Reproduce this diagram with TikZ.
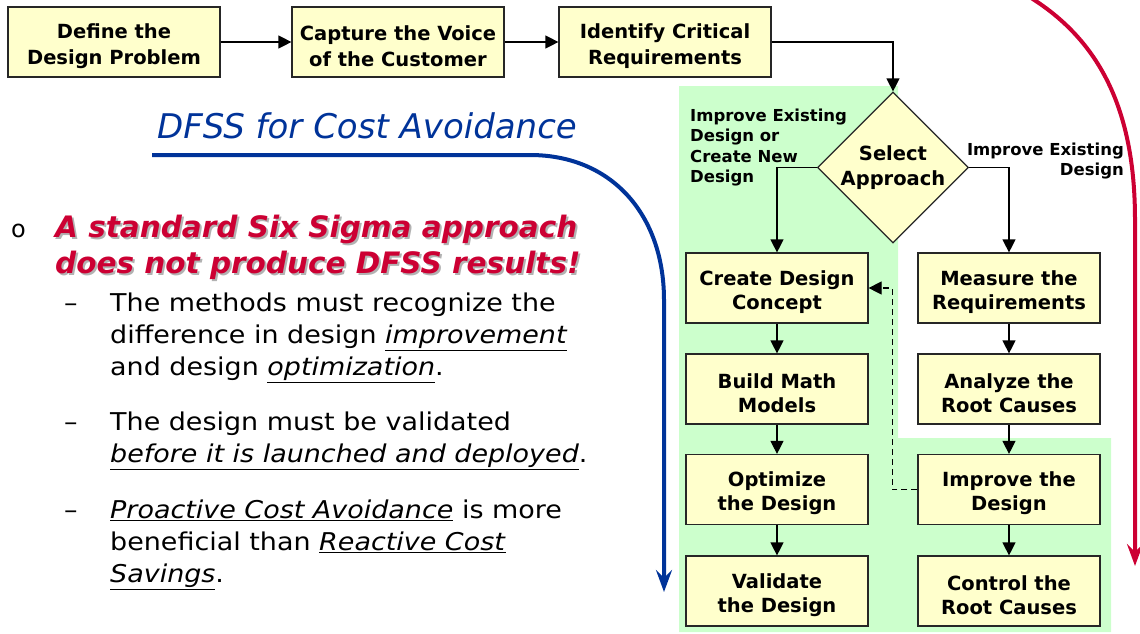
\documentclass[tikz,border=0pt]{standalone}
\usepackage{fontspec}
\setmainfont{DejaVu Sans}
\newfontfamily\bulletfont[FakeStretch=1.1]{DejaVu Sans}
\usetikzlibrary{arrows.meta, shapes.geometric}

\definecolor{boxfill}{HTML}{FFFFCC}
\definecolor{zonegreen}{HTML}{CCFFCC}
\definecolor{titleblue}{HTML}{003399}
\definecolor{alertred}{HTML}{CC0033}

\tikzset{
  stage/.style={draw=black!85, line width=1.2pt, fill=boxfill, inner sep=0pt,
    minimum width=182pt, minimum height=70pt, align=center,
    font=\bfseries\fontsize{19.5}{24}\selectfont},
  topstage/.style={stage, minimum width=212pt,
    font=\bfseries\fontsize{19.5}{26}\selectfont},
  pick/.style={diamond, draw=black!85, line width=1.2pt, fill=boxfill,
    inner sep=0pt, minimum width=151pt, minimum height=151pt, align=center,
    font=\bfseries\fontsize{19.5}{25}\selectfont},
  flow/.style={line width=1.2pt, -{Triangle[length=13pt,width=13pt]}},
  bigarrow/.style={line width=4pt, -{Stealth[length=22pt,width=16pt,inset=8pt]}},
  note/.style={inner sep=0pt, font=\bfseries\fontsize{16.5}{20.5}\selectfont},
  point/.style={inner sep=0pt, anchor=north west, align=left,
    font=\bulletfont\fontsize{24.5}{32}\selectfont},
  dashmark/.style={inner sep=0pt, anchor=base west,
    font=\bulletfont\fontsize{24.5}{32}\selectfont},
  warn/.style={inner sep=0pt, anchor=north west, align=left,
    font=\bfseries\itshape\fontsize{29.5}{36}\selectfont}
}
\newcommand{\stress}[1]{\underline{\textit{#1}}}
\newcommand{\up}{\rule{0pt}{22.5pt}}

\begin{document}
\begin{tikzpicture}[x=1pt, y=-1pt]
\useasboundingbox (0,0) rectangle (1140,633);

% green zone behind the DFSS path
\fill[zonegreen] (679,86) -- (898,86) -- (898,438) -- (1111,438)
  -- (1111,632) -- (679,632) -- cycle;

% top row
\node[topstage] (define) at (114,42) {\up Define the\\Design Problem};
\node[topstage] (voice) at (398,42) {\up Capture the Voice\\of the Customer};
\node[topstage] (req) at (665,42) {\up Identify Critical\\Requirements};

\node[pick] (select) at (893,167.5) {Select\\Approach};

% left column
\node[stage] (concept) at (777,288) {\up Create Design\\Concept};
\node[stage] (math) at (777,389) {\up Build Math\\Models};
\node[stage] (optim) at (777,489.5) {\up Optimize\\the Design};
\node[stage] (valid) at (777,591) {\up Validate\\the Design};

% right column
\node[stage] (measure) at (1009,288) {\up Measure the\\Requirements};
\node[stage] (analyze) at (1009,389) {\up Analyze the\\Root Causes};
\node[stage] (improve) at (1009,489.5) {\up Improve the\\Design};
\node[stage] (control) at (1009,591) {\up Control the\\Root Causes};

\node[note, anchor=north west, align=left] (leftnote) at (690,108.5)
  {Improve Existing\\Design or\\Create New\\Design};
\node[note, anchor=north east, align=right] (rightnote) at (1124,142.5)
  {Improve Existing\\Design};

\draw[flow] (define) -- (voice);
\draw[flow] (voice) -- (req);
\draw[flow] (req.east) -| (select.north);
\draw[flow] (select.west) -| (concept.north);
\draw[flow] (select.east) -| (measure.north);
\draw[flow] (concept) -- (math);
\draw[flow] (math) -- (optim);
\draw[flow] (optim) -- (valid);
\draw[flow] (measure) -- (analyze);
\draw[flow] (analyze) -- (improve);
\draw[flow] (improve) -- (control);
\draw[flow, dash pattern=on 6pt off 4pt] (improve.west) -- ++(-25,0) |- (concept.east);

% title and the two big arrows
\node[inner sep=0pt, anchor=base west, text=titleblue,
  font=\itshape\fontsize{34}{40}\selectfont] (title) at (157,138) {DFSS for Cost Avoidance};
\draw[titleblue, bigarrow] (152,155) -- (530,155)
  .. controls (612,155) and (664,215) .. (664,300) -- (664,592);
\draw[alertred, bigarrow] (1028,-4) .. controls (1100,40) and (1135,110) .. (1135,220)
  -- (1135,566);

% text on the left
\node[inner sep=0pt, anchor=base west, font=\fontsize{24}{30}\selectfont] (ring) at (11,237) {o};
\node[warn, text=black!30] (warnshade) at (57,216.5)
  {A standard Six Sigma approach\\does not produce DFSS results!};
\node[warn, text=alertred] (warning) at (55,214.5)
  {A standard Six Sigma approach\\does not produce DFSS results!};

\node[dashmark] (d1) at (64,311) {\textendash};
\node[point] (p1) at (110,292.4)
  {The methods must recognize the\\difference in design \stress{improvement}\\and design \stress{optimization}.};
\node[dashmark] (d2) at (64,430) {\textendash};
\node[point] (p2) at (110,411.4)
  {The design must be validated\\\stress{before it is launched and deployed}.};
\node[dashmark] (d3) at (64,518) {\textendash};
\node[point] (p3) at (110,499.4)
  {\stress{Proactive Cost Avoidance} is more\\beneficial than \stress{Reactive Cost}\\\stress{Savings}.};
\end{tikzpicture}
\end{document}
